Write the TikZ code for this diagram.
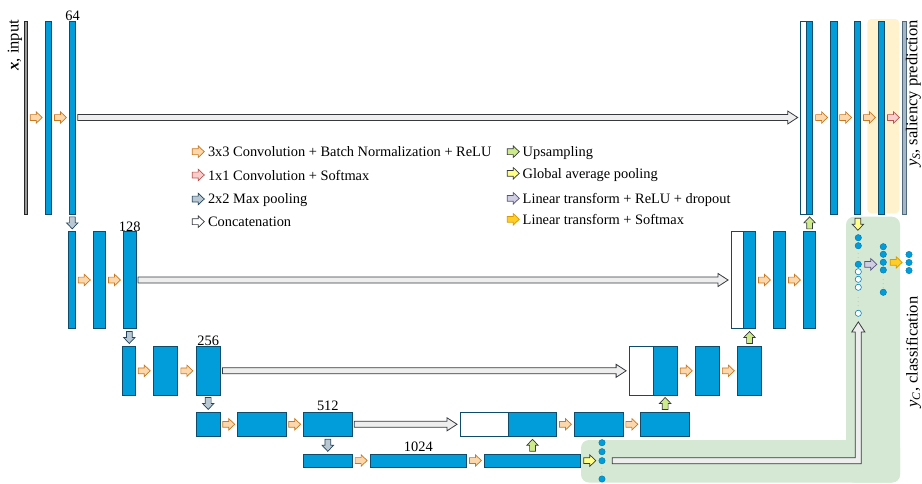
\documentclass[tikz,border=0pt]{standalone}
\usepackage{fontspec}
\setmainfont{Liberation Serif}
\usetikzlibrary{calc}

\definecolor{unetblue}{HTML}{009DDA}
\definecolor{unetline}{HTML}{0F4C6B}
\definecolor{convfill}{HTML}{FAD7AC}
\definecolor{convline}{HTML}{C8781E}
\definecolor{softfill}{HTML}{F8CECC}
\definecolor{softline}{HTML}{B85450}
\definecolor{poolfill}{HTML}{BAC8D3}
\definecolor{poolline}{HTML}{23445D}
\definecolor{catfill}{HTML}{EEEEEE}
\definecolor{catline}{HTML}{36393D}
\definecolor{upfill}{HTML}{CDEB8B}
\definecolor{gapfill}{HTML}{FFFF88}
\definecolor{linfill}{HTML}{D0CEE2}
\definecolor{linline}{HTML}{56517E}
\definecolor{lsfill}{HTML}{FFCD28}
\definecolor{lsline}{HTML}{D79B00}
\definecolor{clsbg}{HTML}{D5E8D4}
\definecolor{salbg}{HTML}{FFF2CC}
\definecolor{outfill}{HTML}{A7B6C4}

\tikzset{
  blk/.style={draw=unetline, fill=unetblue, line width=0.8pt},
  catblk/.style={draw=unetline, fill=white, line width=0.8pt},
  inbar/.style={draw=black!85, fill=black!40, line width=0.7pt},
  outbar/.style={draw=poolline!80, fill=outfill, line width=0.7pt},
  conv/.style={draw=convline, fill=convfill, line width=0.7pt},
  soft/.style={draw=softline, fill=softfill, line width=0.7pt},
  pool/.style={draw=poolline, fill=poolfill, line width=0.7pt},
  cat/.style={draw=catline, fill=catfill, line width=0.8pt},
  catleg/.style={draw=catline, fill=white, line width=0.7pt},
  up/.style={draw=catline, fill=upfill, line width=0.7pt},
  gap/.style={draw=catline, fill=gapfill, line width=0.7pt},
  lin/.style={draw=linline, fill=linfill, line width=0.7pt},
  linsoft/.style={draw=lsline, fill=lsfill, line width=0.7pt},
  pics/fat/.style={code={
    \path[pic actions] (-6,-2.9) -- (0,-2.9) -- (0,-5.7) -- (6,0) -- (0,5.7) -- (0,2.9) -- (-6,2.9) -- cycle;}},
  dotf/.style={circle, draw=unetblue!75!black, fill=unetblue, line width=0.4pt, minimum size=6.4},
  doth/.style={circle, draw=unetblue!85!black, fill=white, line width=0.6pt, minimum size=6.2},
  ell/.style={font=\fontsize{5}{5}\selectfont, text=black!55},
  lbl/.style={anchor=base},
  rotlbl/.style={rotate=90, anchor=east, font=\fontsize{16.5}{16.5}\selectfont},
}

% long concatenation arrow between two blocks
\newcommand{\catarrow}[2]{%
  \draw[cat] let \p1=($(#1.east)+(2,0)$), \p2=($(#2.west)+(-3,0)$) in
    (\x1,\y1+3pt) -- (\x2-10pt,\y1+3pt) -- (\x2-10pt,\y1+6.5pt) -- (\x2,\y1)
    -- (\x2-10pt,\y1-6.5pt) -- (\x2-10pt,\y1-3pt) -- (\x1,\y1-3pt) -- cycle;}

\begin{document}
\begin{tikzpicture}[x=1pt, y=-1pt, every node/.style={inner sep=0pt, outer sep=0pt},
  font=\fontsize{14.4}{17}\selectfont]
\useasboundingbox (0,0) rectangle (922,483);

% backgrounds
\fill[salbg, rounded corners=4] (867.3,19) rectangle (899.3,213.3);
\fill[clsbg, rounded corners=8] (846,216.7) rectangle (900,482.5);
\fill[clsbg, rounded corners=8] (581,440) rectangle (900,482.5);

% encoder
\node[inbar, minimum width=3.3, minimum height=193] (inb) at (25.6,117.5) {};
\node[blk, minimum width=6.5, minimum height=193] (e1a) at (48.4,117.5) {};
\node[blk, minimum width=6.5, minimum height=193] (e1b) at (72.5,117.5) {};
\node[blk, minimum width=7, minimum height=96.6] (e2a) at (72,280) {};
\node[blk, minimum width=12.6, minimum height=96.6] (e2b) at (99.4,280) {};
\node[blk, minimum width=12.6, minimum height=96.6] (e2c) at (129.6,280) {};
\node[blk, minimum width=12.6, minimum height=48.3] (e3a) at (129,370.8) {};
\node[blk, minimum width=24.6, minimum height=48.3] (e3b) at (165.5,370.8) {};
\node[blk, minimum width=24.6, minimum height=48.3] (e3c) at (208.2,370.8) {};
\node[blk, minimum width=24.6, minimum height=24.7] (e4a) at (208.2,424.3) {};
\node[blk, minimum width=49, minimum height=24.7] (e4b) at (261.5,424.3) {};
\node[blk, minimum width=49, minimum height=24.7] (e4c) at (327.8,424.3) {};
\node[blk, minimum width=49, minimum height=13] (e5a) at (327.8,460.5) {};
\node[blk, minimum width=96.7, minimum height=13] (e5b) at (418.3,460.5) {};
\node[blk, minimum width=96.7, minimum height=13] (e5c) at (532.5,460.5) {};

% decoder
\node[catblk, minimum width=48.3, minimum height=24.7] (d4w) at (484.2,424.3) {};
\node[blk, minimum width=48.3, minimum height=24.7] (d4b) at (532.5,424.3) {};
\node[blk, minimum width=49, minimum height=24.7] (d4c) at (598.7,424.3) {};
\node[blk, minimum width=49, minimum height=24.7] (d4d) at (665,424.3) {};
\node[catblk, minimum width=24.2, minimum height=48.3] (d3w) at (641.2,370.8) {};
\node[blk, minimum width=24.2, minimum height=48.3] (d3b) at (665.4,370.8) {};
\node[blk, minimum width=24.4, minimum height=48.3] (d3c) at (707.2,370.8) {};
\node[blk, minimum width=24.4, minimum height=48.3] (d3d) at (749.5,370.8) {};
\node[catblk, minimum width=12.3, minimum height=96.6] (d2w) at (737.2,280) {};
\node[blk, minimum width=12.3, minimum height=96.6] (d2b) at (749.5,280) {};
\node[blk, minimum width=12.4, minimum height=96.6] (d2c) at (779.5,280) {};
\node[blk, minimum width=12.4, minimum height=96.6] (d2d) at (809.5,280) {};
\node[catblk, minimum width=6, minimum height=193] (d1w) at (803.7,117.5) {};
\node[blk, minimum width=6, minimum height=193] (d1b) at (809.7,117.5) {};
\node[blk, minimum width=6.4, minimum height=193] (d1c) at (833.7,117.5) {};
\node[blk, minimum width=6.4, minimum height=193] (d1d) at (857.5,117.5) {};
\node[blk, minimum width=6.4, minimum height=193] (d1e) at (881.5,117.5) {};
\node[outbar, minimum width=4.4, minimum height=193] (outb) at (904.5,117.5) {};

% channel numbers
\node[lbl] (n64) at (72.5,20) {64};
\node[lbl] (n128) at (129.7,231) {128};
\node[lbl] (n256) at (208.2,345.5) {256};
\node[lbl] (n512) at (327.8,410.5) {512};
\node[lbl] (n1024) at (418.3,451.5) {1024};

% skip connections
\catarrow{e1b}{d1w}
\catarrow{e2c}{d2w}
\catarrow{e3c}{d3w}
\catarrow{e4c}{d4w}

% convolutions
\pic[conv] at ($(inb.east)!0.5!(e1a.west)$) {fat};
\pic[conv] at ($(e1a.east)!0.5!(e1b.west)$) {fat};
\pic[conv] at ($(e2a.east)!0.5!(e2b.west)$) {fat};
\pic[conv] at ($(e2b.east)!0.5!(e2c.west)$) {fat};
\pic[conv] at ($(e3a.east)!0.5!(e3b.west)$) {fat};
\pic[conv] at ($(e3b.east)!0.5!(e3c.west)$) {fat};
\pic[conv] at ($(e4a.east)!0.5!(e4b.west)$) {fat};
\pic[conv] at ($(e4b.east)!0.5!(e4c.west)$) {fat};
\pic[conv] at ($(e5a.east)!0.5!(e5b.west)$) {fat};
\pic[conv] at ($(e5b.east)!0.5!(e5c.west)$) {fat};
\pic[conv] at ($(d4b.east)!0.5!(d4c.west)$) {fat};
\pic[conv] at ($(d4c.east)!0.5!(d4d.west)$) {fat};
\pic[conv] at ($(d3b.east)!0.5!(d3c.west)$) {fat};
\pic[conv] at ($(d3c.east)!0.5!(d3d.west)$) {fat};
\pic[conv] at ($(d2b.east)!0.5!(d2c.west)$) {fat};
\pic[conv] at ($(d2c.east)!0.5!(d2d.west)$) {fat};
\pic[conv] at ($(d1b.east)!0.5!(d1c.west)$) {fat};
\pic[conv] at ($(d1c.east)!0.5!(d1d.west)$) {fat};
\pic[conv] at ($(d1d.east)!0.5!(d1e.west)$) {fat};
\pic[soft] at ($(d1e.east)!0.5!(outb.west)$) {fat};

% pooling and upsampling
\pic[pool, rotate=-90] at ($(e1b.south)!0.5!(e2a.north)$) {fat};
\pic[pool, rotate=-90] at ($(e2c.south)!0.5!(e3a.north)$) {fat};
\pic[pool, rotate=-90] at ($(e3c.south)!0.5!(e4a.north)$) {fat};
\pic[pool, rotate=-90] at ($(e4c.south)!0.5!(e5a.north)$) {fat};
\pic[up, rotate=90] at ($(e5c.north)!0.5!(d4b.south)$) {fat};
\pic[up, rotate=90] at ($(d4d.north)!0.5!(d3b.south)$) {fat};
\pic[up, rotate=90] at ($(d3d.north)!0.5!(d2b.south)$) {fat};
\pic[up, rotate=90] at ($(d2d.north)!0.5!(d1b.south)$) {fat};

% pooled bottleneck features
\node[dotf] (g1) at (602,442.7) {};
\node[dotf] (g2) at (602,451.7) {};
\node[dotf] (g3) at (602,460.7) {};
\node[ell] (g4) at (602,470) {$\vdots$};
\node[dotf] (g5) at (602,479) {};
\pic[gap] at ($(e5c.east)!0.5!(g3.west)$) {fat};

% classification branch
\node[dotf] (c1) at (858.3,237.7) {};
\node[dotf] (c2) at (858.3,245.7) {};
\node[ell] (ce1) at (858.3,255) {$\vdots$};
\node[dotf] (c3) at (858.3,264.3) {};
\node[doth] (h1) at (858.3,271.7) {};
\node[doth] (h2) at (858.3,279.3) {};
\node[doth] (h3) at (858.3,287.3) {};
\node[ell] (ce2) at (858.3,299) {$\vdots$};
\node[doth] (h4) at (858.3,313.3) {};
\node[dotf] (k1) at (883.3,246.7) {};
\node[dotf] (k2) at (883.3,254.3) {};
\node[dotf] (k3) at (883.3,262.3) {};
\node[dotf] (k4) at (883.3,270) {};
\node[ell] (ke) at (883.3,281) {$\vdots$};
\node[dotf] (k5) at (883.3,292.3) {};
\node[dotf] (s1) at (909,254.5) {};
\node[dotf] (s2) at (909,262.5) {};
\node[dotf] (s3) at (909,270.5) {};
\pic[gap, rotate=-90] at ($(d1d.south)!0.5!(c1.north)$) {fat};
\pic[lin] at ($(c3.east)!0.5!(c3.east -| k1.west)$) {fat};
\pic[linsoft] at ($(k3.east)!0.5!(s2.west)$) {fat};

% bottleneck features joined to the classifier
\draw[cat] let \p1=($(g3.east)+(7,0)$), \p2=($(h4.south)+(0,5.5)$) in
  (\x1,\y1+3pt) -- (\x2-3pt,\y1+3pt) -- (\x2-3pt,\y2-10pt) -- (\x2-6.5pt,\y2-10pt) -- (\x2,\y2)
  -- (\x2+6.5pt,\y2-10pt) -- (\x2+3pt,\y2-10pt) -- (\x2+3pt,\y1-3pt) -- (\x1,\y1-3pt) -- cycle;

% input and output labels
\node[rotlbl] (xin) at (15,20) {\textbf{\textit{x}}, input};
\node[rotlbl] (ysal) at (913.5,20) {\textit{y}\textsubscript{\textit{S}}, saliency prediction};
\node[rotlbl, anchor=center] (ycls) at (913.5,352) {\textit{y}\textsubscript{\textit{C}}, classification};

% legend
\pic[conv] at (198.3,151.7) {fat};
\pic[soft] at (198.3,175) {fat};
\pic[pool] at (198.3,199) {fat};
\pic[catleg] at (198.3,221.7) {fat};
\node[anchor=base west] (t1) at (208,156.7) {3x3 Convolution + Batch Normalization + ReLU};
\node[anchor=base west] (t2) at (208,180) {1x1 Convolution + Softmax};
\node[anchor=base west] (t3) at (208,203.5) {2x2 Max pooling};
\node[anchor=base west] (t4) at (208,226.5) {Concatenation};
\pic[up] at (513.3,151.7) {fat};
\pic[gap] at (513.3,173.3) {fat};
\pic[lin] at (513.3,198.3) {fat};
\pic[linsoft] at (513.3,219.3) {fat};
\node[anchor=base west] (t5) at (522.7,156.7) {Upsampling};
\node[anchor=base west] (t6) at (522.7,178.3) {Global average pooling};
\node[anchor=base west] (t7) at (522.7,203.3) {Linear transform + ReLU + dropout};
\node[anchor=base west] (t8) at (522.7,224.3) {Linear transform + Softmax};
\end{tikzpicture}
\end{document}
